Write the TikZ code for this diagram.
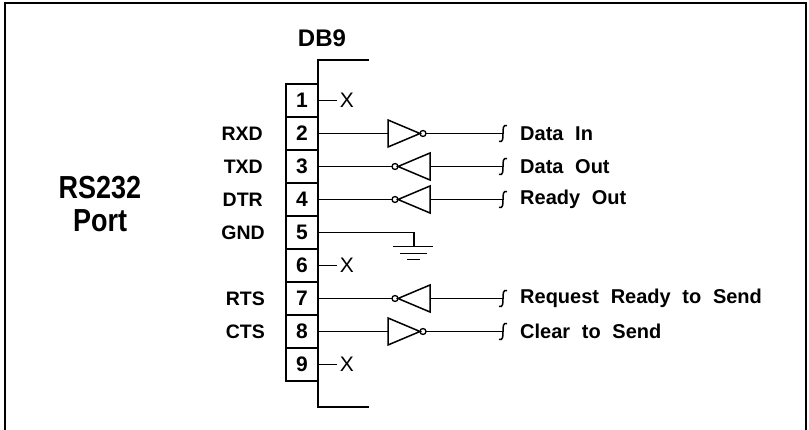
\documentclass[tikz,border=0pt]{standalone}
\usepackage{fontspec}
\usepackage{graphicx}
\setmainfont{Liberation Sans}[WordSpace=2.1]
\usetikzlibrary{shapes.geometric, positioning}

\begin{document}
\begin{tikzpicture}[
  x=1pt, y=-1pt,
  pin/.style={rectangle, draw, line width=2.4pt, minimum width=32pt, minimum height=33pt, inner sep=0pt, outer sep=0pt, font=\fontsize{21}{21}\selectfont\bfseries},
  sig/.style={inner sep=0pt, font=\fontsize{19.5}{19.5}\selectfont\bfseries},
  label/.style={inner sep=0pt, font=\fontsize{20}{20}\selectfont\bfseries},
  nc/.style={right, inner sep=2pt, font=\fontsize{21}{21}\selectfont},
  buf/.style={draw, line width=1.5pt, isosceles triangle, isosceles triangle stretches, minimum width=27pt, minimum height=32pt, inner sep=0pt, outer sep=0pt},
  bub/.style={draw, line width=1.3pt, circle, minimum size=6pt, inner sep=0pt, outer sep=0pt},
  wire/.style={line width=1.5pt},
  squig/.pic={\draw[wire] (4,-8) .. controls (0,-9) and (0,-5) .. (0,0) .. controls (0,5) and (0,9) .. (-4,8);}
]
\useasboundingbox (0,0) rectangle (809,430);
\clip (0,0) rectangle (809,430);

% outer frame, bottom edge falls outside the picture
\draw[line width=2pt] (5,440) -- (5,3) -- (806,3) -- (806,440);

% port title
\node[align=center, font=\fontsize{27}{33}\selectfont\bfseries] (port) at (100,204) {\scalebox{1}[1.18]{RS232}\\\scalebox{1}[1.18]{Port}};

% DB9 connector: pins and shell
\node[font=\fontsize{24}{24}\selectfont\bfseries] (db9) at (322,38) {DB9};
\node[pin] (p1) at (302,100.5) {1};
\foreach \i [count=\j from 1] in {2,...,9}
  \node[pin, below=0pt of p\j] (p\i) {\i};
\coordinate (shT) at (318,60);
\coordinate (shB) at (318,407);
\draw[line width=2.6pt] ([xshift=51pt]shT) -- (shT) -- (shB) -- ([xshift=51pt]shB);

% signal names
\node[sig, left=23pt of p2] {RXD};
\node[sig, left=23pt of p3] {TXD};
\node[sig, left=23pt of p4] {DTR};
\node[sig, left=21pt of p5] {GND};
\node[sig, left=21pt of p7] {RTS};
\node[sig, left=21pt of p8] {CTS};

% unused pins
\draw[wire] (p1.east) -- ++(19,0) node[nc] {X};
\draw[wire] (p6.east) -- ++(19,0) node[nc] {X};
\draw[wire] (p9.east) -- ++(19,0) node[nc] {X};

% pin 2: Data In
\node[buf, right=70pt of p2.east, anchor=lower side] (b2) {};
\node[bub, right=0pt of b2.apex] (c2) {};
\coordinate[right=185pt of p2.east] (s2);
\draw[wire] (p2.east) -- (b2.lower side);
\draw[wire] (c2.east) -- (s2);
\pic at (s2) {squig};
\node[label, right=17pt of s2] {Data In};

% pin 3: Data Out
\node[buf, shape border rotate=180, right=112pt of p3.east, anchor=lower side] (b3) {};
\node[bub, left=0pt of b3.apex] (c3) {};
\coordinate[right=185pt of p3.east] (s3);
\draw[wire] (p3.east) -- (c3.west);
\draw[wire] (b3.lower side) -- (s3);
\pic at (s3) {squig};
\node[label, right=17pt of s3] {Data Out};

% pin 4: Ready Out
\node[buf, shape border rotate=180, right=112pt of p4.east, anchor=lower side] (b4) {};
\node[bub, left=0pt of b4.apex] (c4) {};
\coordinate[right=185pt of p4.east] (s4);
\draw[wire] (p4.east) -- (c4.west);
\draw[wire] (b4.lower side) -- (s4);
\pic at (s4) {squig};
\node[label, right=17pt of s4] {Ready Out};

% pin 5: ground
\coordinate[right=96pt of p5.east] (g5);
\draw[wire] (p5.east) -- (g5) -- ++(0,14) coordinate (gnd);
\draw[wire] ([xshift=-21pt]gnd) -- ([xshift=19pt]gnd);
\draw[wire] ([xshift=-14pt, yshift=-7pt]gnd) -- ([xshift=13pt, yshift=-7pt]gnd);
\draw[wire] ([xshift=-7pt, yshift=-13pt]gnd) -- ([xshift=6pt, yshift=-13pt]gnd);

% pin 7: Request Ready to Send
\node[buf, shape border rotate=180, right=112pt of p7.east, anchor=lower side] (b7) {};
\node[bub, left=0pt of b7.apex] (c7) {};
\coordinate[right=185pt of p7.east] (s7);
\draw[wire] (p7.east) -- (c7.west);
\draw[wire] (b7.lower side) -- (s7);
\pic at (s7) {squig};
\node[label, right=17pt of s7] {Request Ready to Send};

% pin 8: Clear to Send
\node[buf, right=70pt of p8.east, anchor=lower side] (b8) {};
\node[bub, right=0pt of b8.apex] (c8) {};
\coordinate[right=185pt of p8.east] (s8);
\draw[wire] (p8.east) -- (b8.lower side);
\draw[wire] (c8.east) -- (s8);
\pic at (s8) {squig};
\node[label, right=17pt of s8] {Clear to Send};
\end{tikzpicture}
\end{document}
